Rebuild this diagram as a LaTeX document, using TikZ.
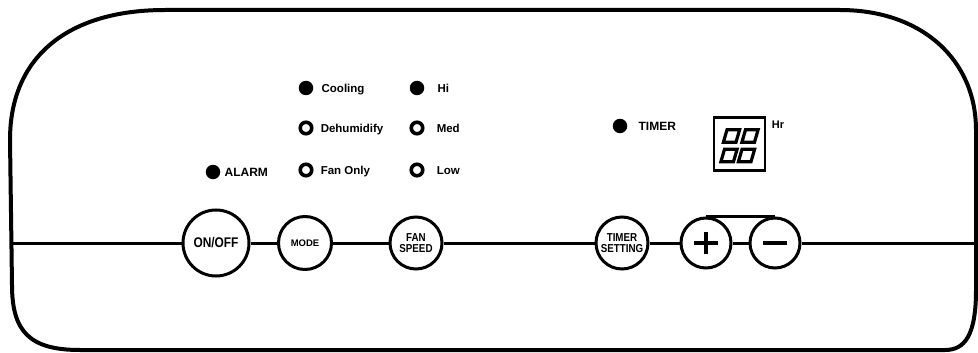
\documentclass[tikz,border=0pt]{standalone}
\usepackage{fontspec}
\setmainfont{Liberation Sans}
\newfontfamily\narrowsans[FakeStretch=0.85]{Liberation Sans}
\usetikzlibrary{positioning}

\tikzset{
  panel/.style={line width=4pt},
  wire/.style={line width=3pt},
  button/.style={circle,draw,line width=3pt,inner sep=0pt,align=center},
  btntext/.style={font=\narrowsans\fontsize{11.5}{11}\selectfont\bfseries},
  ledon/.style={circle,fill=black,minimum size=14.5pt,inner sep=0pt},
  ledoff/.style={circle,draw,line width=3.6pt,minimum size=11.5pt,inner sep=0pt},
  ledtext/.style={inner sep=0pt,text height=8.2pt,text depth=0pt,font=\fontsize{11.5}{13}\selectfont\bfseries},
  segment/.style={line width=3.2pt,line join=miter},
}

\begin{document}
\begin{tikzpicture}[x=1pt,y=-1pt]
 \useasboundingbox (0,0) rectangle (978,353);
 % housing
 \draw[panel] (165,10) -- (840,10) .. controls (922,10) and (976,60) .. (976,130) -- (976,290)
   .. controls (976,335) and (965,350) .. (945,350) -- (80,350)
   .. controls (30,350) and (12,332) .. (12,285) -- (10,140)
   .. controls (10,55) and (70,10) .. (165,10) -- cycle;

 % buttons
 \node[button,minimum size=66pt,font=\narrowsans\fontsize{14}{14}\selectfont\bfseries] (onoff) at (216,243) {ON/OFF};
 \node[button,minimum size=53pt,font=\fontsize{9.5}{10}\selectfont\bfseries] (mode) at (305,243) {MODE};
 \node[button,minimum size=52pt,btntext] (fanspeed) at (416,243) {FAN\\SPEED};
 \node[button,minimum size=52pt,btntext] (timerset) at (622,243) {TIMER\\SETTING};
 \node[button,minimum size=50pt] (plus) at (706,243) {};
 \node[button,minimum size=50pt] (minus) at (775,243) {};
 \draw[line width=3.5pt] ([xshift=-12pt]plus.center) -- ([xshift=12pt]plus.center);
 \draw[line width=3.5pt] ([yshift=-11pt]plus.center) -- ([yshift=11pt]plus.center);
 \draw[line width=3.5pt] ([xshift=-12pt]minus.center) -- ([xshift=12pt]minus.center);

 % connectors
 \coordinate (leftend) at (10,243);
 \coordinate (rightend) at (978,243);
 \draw[wire] (leftend) -- (onoff) -- (mode) -- (fanspeed) -- (timerset) -- (plus) -- (minus) -- (rightend);
 \draw[wire] (plus.north) -- (minus.north);

 % indicator lights
 \node[ledon] (alarm) at (213,172) {};
 \node[ledtext,font=\fontsize{12}{13}\selectfont\bfseries,right=4pt of alarm] (alarmtxt) {ALARM};
 \node[ledon] (cool) at (306,88) {};
 \node[ledtext,right=8pt of cool] (cooltxt) {Cooling};
 \node[ledoff] (dehum) at (306,128) {};
 \node[ledtext,right=7pt of dehum] (dehumtxt) {Dehumidify};
 \node[ledoff] (fanonly) at (306,170) {};
 \node[ledtext,right=7pt of fanonly] (fanonlytxt) {Fan Only};
 \node[ledon] (hi) at (417,88) {};
 \node[ledtext,right=13pt of hi] (hitxt) {Hi};
 \node[ledoff] (med) at (417,128) {};
 \node[ledtext,right=12pt of med] (medtxt) {Med};
 \node[ledoff] (low) at (417,170) {};
 \node[ledtext,right=12pt of low] (lowtxt) {Low};
 \node[ledon] (timer) at (620,126) {};
 \node[ledtext,font=\fontsize{12}{13}\selectfont\bfseries,right=11pt of timer] (timertxt) {TIMER};

 % hour display
 \node[draw,line width=2.4pt,minimum width=51pt,minimum height=53pt,inner sep=0pt] (display) at (739.5,144) {};
 \foreach \cx/\cy in {731.5/136,750/136,729/155.5,746.5/155.5}
  \draw[segment] ({\cx-4.5},{\cy-6.2}) -- ({\cx+8.1},{\cy-6.2}) -- ({\cx+4.5},{\cy+6.2}) -- ({\cx-8.1},{\cy+6.2}) -- cycle;
 \node[inner sep=0pt,font=\fontsize{11}{12}\selectfont\bfseries] (hr) at (778,125) {Hr};
\end{tikzpicture}
\end{document}
